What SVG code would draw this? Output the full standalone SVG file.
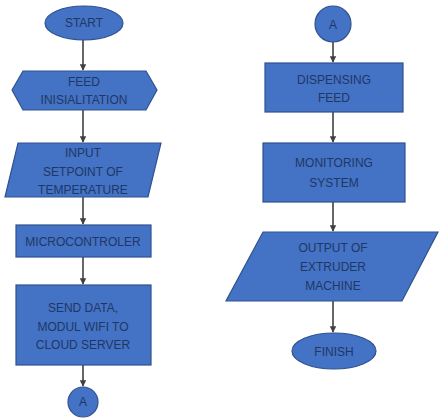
<svg xmlns="http://www.w3.org/2000/svg" width="439" height="418" viewBox="0 0 439 418">
<style>
.s{fill:#4472C4;stroke:#2F528F;stroke-width:1.2}
.t{font-family:"Liberation Sans",Arial,sans-serif;font-size:12px;fill:#1F3864;text-anchor:middle}
.c{stroke:#404040;stroke-width:1.6;fill:none;marker-end:url(#ah)}
</style>
<defs>
<marker id="ah" viewBox="0 0 10 10" refX="9" refY="5" markerWidth="4" markerHeight="4" orient="auto">
<path d="M0,0 L10,5 L0,10 z" fill="#404040"/>
</marker>
</defs>
<rect width="439" height="418" fill="#ffffff"/>
<g id="connectors">
<line class="c" x1="83" y1="40" x2="83" y2="70"/>
<line class="c" x1="83" y1="110" x2="83" y2="142"/>
<line class="c" x1="83" y1="197" x2="83" y2="224"/>
<line class="c" x1="83" y1="257" x2="83" y2="284"/>
<line class="c" x1="83" y1="365" x2="83" y2="386"/>
<line class="c" x1="333" y1="42" x2="333" y2="62"/>
<line class="c" x1="333" y1="112" x2="333" y2="142"/>
<line class="c" x1="333" y1="202" x2="333" y2="231"/>
<line class="c" x1="333" y1="301" x2="333" y2="332"/>
</g>
<g id="start">
<ellipse class="s" cx="84" cy="23" rx="39" ry="17"/>
<text class="t" x="84" y="27">START</text>
</g>
<g id="feed-init">
<polygon class="s" points="12,90 23,71 146,71 157,90 146,110 23,110"/>
<text class="t" x="84" y="86">FEED</text>
<text class="t" x="84" y="104">INISIALITATION</text>
</g>
<g id="input">
<polygon class="s" points="18,143 161,143 148,197 5,197"/>
<text class="t" x="83" y="157">INPUT</text>
<text class="t" x="83" y="176">SETPOINT OF</text>
<text class="t" x="83" y="194">TEMPERATURE</text>
</g>
<g id="microcontroler">
<rect class="s" x="16" y="225" width="135" height="32"/>
<text class="t" x="83" y="246">MICROCONTROLER</text>
</g>
<g id="send-data">
<rect class="s" x="16" y="285" width="135" height="80"/>
<text class="t" x="83" y="312">SEND DATA,</text>
<text class="t" x="83" y="331">MODUL WIFI TO</text>
<text class="t" x="83" y="349">CLOUD SERVER</text>
</g>
<g id="connector-a-left">
<circle class="s" cx="83" cy="402" r="15"/>
<text class="t" x="83" y="406">A</text>
</g>
<g id="connector-a-right">
<circle class="s" cx="333" cy="24" r="18"/>
<text class="t" x="333" y="29">A</text>
</g>
<g id="dispensing-feed">
<rect class="s" x="265" y="63" width="138" height="49"/>
<text class="t" x="334" y="84">DISPENSING</text>
<text class="t" x="334" y="102">FEED</text>
</g>
<g id="monitoring-system">
<rect class="s" x="263" y="143" width="142" height="59"/>
<text class="t" x="334" y="167">MONITORING</text>
<text class="t" x="334" y="187">SYSTEM</text>
</g>
<g id="output">
<polygon class="s" points="263,232 438,232 402,301 226,301"/>
<text class="t" x="333" y="252">OUTPUT OF</text>
<text class="t" x="333" y="271">EXTRUDER</text>
<text class="t" x="333" y="290">MACHINE</text>
</g>
<g id="finish">
<ellipse class="s" cx="334" cy="351" rx="42" ry="18"/>
<text class="t" x="334" y="356">FINISH</text>
</g>
</svg>
